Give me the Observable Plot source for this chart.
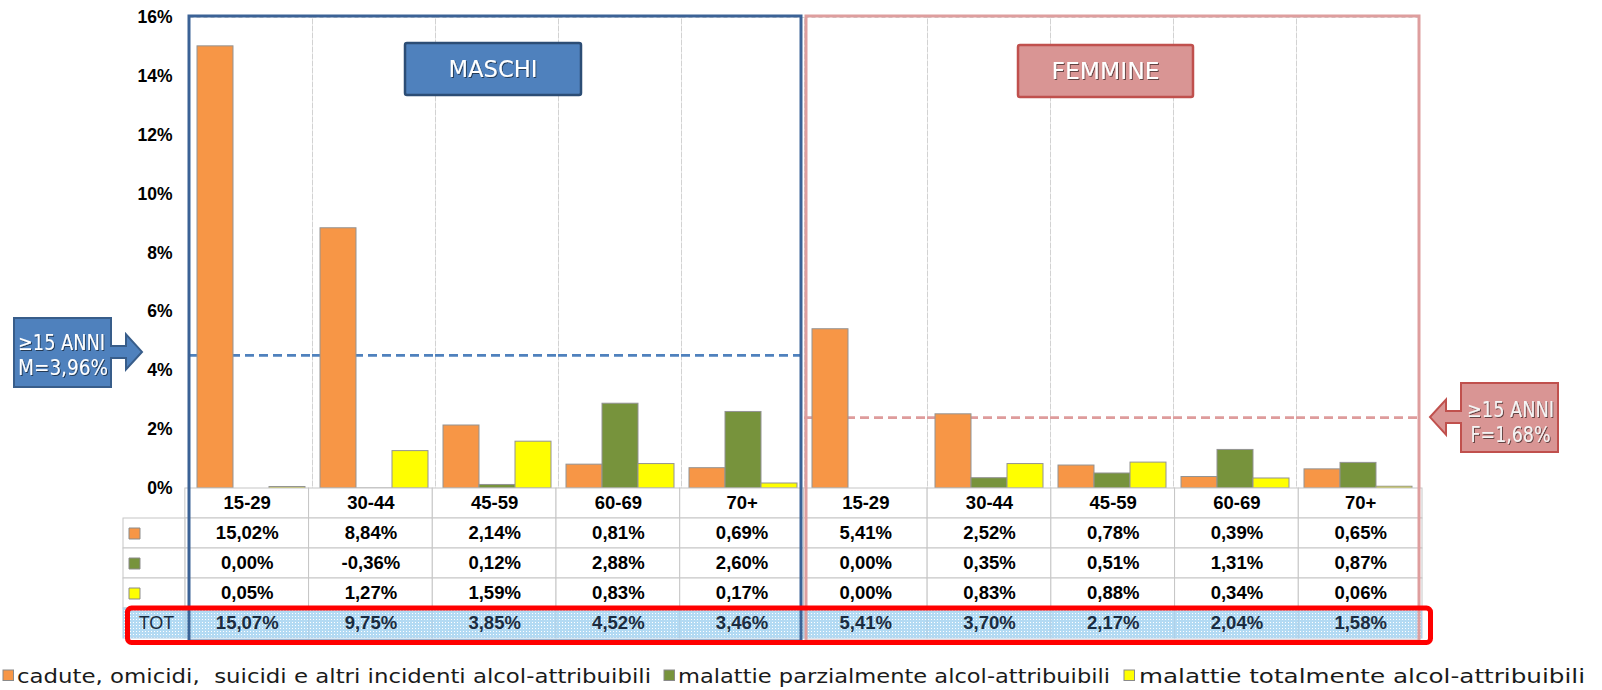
<!DOCTYPE html>
<html><head><meta charset="utf-8">
<script src="https://cdn.jsdelivr.net/npm/d3@7"></script>
<script src="https://cdn.jsdelivr.net/npm/@observablehq/plot@0.6"></script>
<style>
body{margin:0;background:#fff;}
#wrap{position:relative;width:1602px;height:690px;overflow:hidden;background:#fff;}
#wrap > svg{position:absolute;left:0;top:0;}
</style></head><body><div id="wrap"></div>
<script>
// ---------- data ----------
const ageGroups = ["15-29","30-44","45-59","60-69","70+"];
const sexes = ["M","F"];
const seriesKeys = ["incidenti","parziali","totali"];
const seriesLabels = ["cadute, omicidi,  suicidi e altri incidenti alcol-attribuibili","malattie parzialmente alcol-attribuibili","malattie totalmente alcol-attribuibili"];
const seriesColors = ["#F79646","#77933C","#FFFF00"];
const maleIncidenti = [15.02, 8.84, 2.14, 0.81, 0.69];
const maleParziali  = [0.00, -0.36, 0.12, 2.88, 2.60];
const maleTotali    = [0.05, 1.27, 1.59, 0.83, 0.17];
const femaleIncidenti = [5.41, 2.52, 0.78, 0.39, 0.65];
const femaleParziali  = [0.00, 0.35, 0.51, 1.31, 0.87];
const femaleTotali    = [0.00, 0.83, 0.88, 0.34, 0.06];
const maleTot   = [15.07, 9.75, 3.85, 4.52, 3.46];
const femaleTot = [5.41, 3.70, 2.17, 2.04, 1.58];
const yTicks = [0, 2, 4, 6, 8, 10, 12, 14, 16];
const refLevels = {M: 4.52, F: 2.41};           // level at which dashed lines are drawn
const refLabels = {M: ["≥15 ANNI", "M=3,96%"], F: ["≥15 ANNI", "F=1,68%"]};
const sexLabels = {M: "MASCHI", F: "FEMMINE"};
const totLabel = "TOT";

// ---------- derived tables ----------
const valuesBySex = {
  M: [maleIncidenti, maleParziali, maleTotali],
  F: [femaleIncidenti, femaleParziali, femaleTotali]
};
const totBySex = {M: maleTot, F: femaleTot};
const groupKeys = [];
sexes.forEach(s => ageGroups.forEach(a => groupKeys.push(s + " " + a)));
const bars = [];
sexes.forEach(s => ageGroups.forEach((a, i) => seriesKeys.forEach((k, j) => {
  bars.push({group: s + " " + a, series: k, value: valuesBySex[s][j][i]});
})));
const refData = groupKeys.map(g => ({group: g, sex: g.split(" ")[0], v: refLevels[g.split(" ")[0]]}));
const fmt = v => v.toFixed(2).replace(".", ",") + "%";

// ---------- chart ----------
const W = 1602, H = 690;
const FONT = "'Liberation Sans', Arial, sans-serif";
const NARROW = "'Liberation Sans Narrow', 'DejaVu Sans Condensed', 'Open Sans', sans-serif";
const chart = Plot.plot({
  width: W, height: H,
  marginLeft: 185, marginRight: 180, marginTop: 17, marginBottom: 202,
  style: {fontFamily: FONT, fontSize: "17.5px", fontWeight: "bold", color: "#000", background: "transparent", overflow: "visible"},
  fx: {domain: groupKeys, padding: 0, axis: null},
  x: {domain: seriesKeys, paddingInner: 0, paddingOuter: 0.176, axis: null},
  y: {domain: [0, 16], ticks: yTicks, tickFormat: d => d + "%", tickSize: 0, tickPadding: 17, label: null},
  color: {domain: seriesKeys, range: seriesColors},
  marks: [
    Plot.frame({stroke: "#d2d2d2", strokeDasharray: "4,3"}),
    Plot.ruleY(refData.filter(d => d.sex === "M"), {fx: "group", y: "v", stroke: "#4F81BD", strokeWidth: 2.8, strokeDasharray: "9,5"}),
    Plot.ruleY(refData.filter(d => d.sex === "F"), {fx: "group", y: "v", stroke: "#DE9C9C", strokeWidth: 2.8, strokeDasharray: "9,5"}),
    Plot.barY(bars, {fx: "group", x: "series", y: "value", fill: "series", stroke: "#939393", strokeWidth: 1, clip: true})
  ]
});

// ---------- table ----------
const rows = ["hdr", ...seriesKeys, "tot"];
const cellsPlain = [], cellsTot = [], texts = [];
groupKeys.forEach((g, i) => {
  const [s, a] = g.split(" ");
  const ai = ageGroups.indexOf(a);
  ["hdr", ...seriesKeys].forEach(r => cellsPlain.push({x1: i, x2: i + 1, row: r}));
  cellsTot.push({x1: i, x2: i + 1, row: "tot"});
  texts.push({xc: i + 0.5, row: "hdr", text: a});
  seriesKeys.forEach((k, j) => texts.push({xc: i + 0.5, row: k, text: fmt(valuesBySex[s][j][ai])}));
  texts.push({xc: i + 0.5, row: "tot", text: fmt(totBySex[s][ai]), tot: true});
});
seriesKeys.forEach(k => cellsPlain.push({x1: -0.5, x2: 0, row: k}));
cellsTot.push({x1: -0.5, x2: 0, row: "tot"});
const keyRows = seriesKeys.map((k, j) => ({row: k, color: seriesColors[j]}));

const tableCfg = {
  width: W, height: H,
  marginLeft: 123, marginRight: 180, marginTop: 488, marginBottom: 52,
  style: {fontFamily: FONT, background: "transparent", overflow: "visible"},
  x: {domain: [-0.5, 10], axis: null},
  y: {domain: rows, padding: 0, axis: null}
};
const table = Plot.plot({
  ...tableCfg,
  marks: [
    Plot.barX(cellsPlain, {x1: "x1", x2: "x2", y: "row", fill: "white", stroke: "#c6c6c6", strokeWidth: 1}),
    Plot.barX(cellsTot, {x1: "x1", x2: "x2", y: "row", fill: "url(#totdots)", stroke: "#b0cfe6", strokeWidth: 1}),
    Plot.text(texts.filter(d => !d.tot), {x: "xc", y: "row", text: "text", fontSize: 18.5, fontWeight: "bold", fill: "#000"}),
    Plot.text(texts.filter(d => d.tot), {x: "xc", y: "row", text: "text", fontSize: 18.5, fontWeight: "bold", fill: "#1b2c40"}),
    Plot.dot(keyRows, {y: "row", frameAnchor: "left", dx: 11, symbol: "square", r: 6.2, fill: "color", stroke: "#8a8a8a", strokeWidth: 1}),
    Plot.text([totLabel], {y: () => "tot", frameAnchor: "left", dx: 33, textAnchor: "middle", text: d => d, fontSize: 18, fill: "#1b2c40"})
  ]
});
d3.select(table).insert("defs", ":first-child").html(
  `<pattern id="totdots" width="3" height="3" patternUnits="userSpaceOnUse">
     <rect width="3" height="3" fill="#b3daf3"/><rect x="1" y="1" width="1" height="1" fill="#ffffff"/>
   </pattern>`);
// red highlight of the TOT row, drawn on top of everything
const highlight = Plot.plot({
  ...tableCfg,
  marks: [
    Plot.barX([{row: "tot"}], {x1: () => -0.5, x2: () => 10, y: "row", fill: "none", stroke: "#FF0000", strokeWidth: 5, rx: 4,
      insetLeft: 4.5, insetRight: -8.5, insetTop: 0, insetBottom: -4.5})
  ]
});

const wrap = document.getElementById("wrap");
wrap.appendChild(chart);
wrap.appendChild(table);

// ---------- annotations (positioned from the chart's scales) ----------
const fx = chart.scale("fx"), y = chart.scale("y");
const bw = fx.bandwidth;
const fxs = k => fx.apply(k);
const yTop = y.apply(16), yBase = y.apply(0);
const tableBottom = 641;

const ov = d3.create("svg").attr("width", W).attr("height", H)
  .style("font-family", NARROW);
ov.append("defs").html(`<filter id="sh" x="-10%" y="-10%" width="120%" height="130%">
  <feDropShadow dx="1" dy="1" stdDeviation="0.6" flood-color="#000" flood-opacity="0.55"/></filter>`);

// region boxes
const mL = fxs("M " + ageGroups[0]), mR = fxs("M " + ageGroups[4]) + bw - 3;
const fL = fxs("F " + ageGroups[0]) + 2, fR = fxs("F " + ageGroups[4]) + bw;
ov.append("rect").attr("x", mL).attr("y", yTop - 1).attr("width", mR - mL).attr("height", tableBottom - yTop + 1)
  .attr("fill", "none").attr("stroke", "#3B6296").attr("stroke-width", 3);
ov.append("rect").attr("x", fL).attr("y", yTop - 1).attr("width", fR - fL).attr("height", tableBottom - yTop + 1)
  .attr("fill", "none").attr("stroke", "#DE9E9E").attr("stroke-width", 3);

// sex label boxes
function labelBox(cx, top, w, h, fill, stroke, text, tw) {
  ov.append("rect").attr("x", cx - w / 2).attr("y", top).attr("width", w).attr("height", h).attr("rx", 2)
    .attr("fill", fill).attr("stroke", stroke).attr("stroke-width", 2.5);
  ov.append("text").attr("x", cx).attr("y", top + h / 2 + 8).attr("text-anchor", "middle")
    .attr("font-size", 23).attr("fill", "#fff").attr("filter", "url(#sh)")
    .attr("textLength", tw).attr("lengthAdjust", "spacingAndGlyphs").text(text);
}
labelBox((mL + mR) / 2 - 2, yTop + 26, 176, 52, "#4F81BD", "#2C4D75", sexLabels.M, 89);
labelBox((fL + fR) / 2 - 7, yTop + 28, 175, 52, "#D99594", "#C0504D", sexLabels.F, 108);

// callout arrows
function callout(dir, tx, ty, fill, stroke, lines, textFill) {
  const s = dir; // +1 pointing right (box on the left), -1 pointing left
  const boxNear = tx - s * 31, boxFar = tx - s * 128, neckEnd = tx - s * 16;
  const top = ty - 34, bot = ty + 35, nh = 6, hh = 17.5;
  const p = d3.path();
  p.moveTo(boxFar, top); p.lineTo(boxNear, top); p.lineTo(boxNear, ty - nh); p.lineTo(neckEnd, ty - nh);
  p.lineTo(neckEnd, ty - hh); p.lineTo(tx, ty); p.lineTo(neckEnd, ty + hh); p.lineTo(neckEnd, ty + nh);
  p.lineTo(boxNear, ty + nh); p.lineTo(boxNear, bot); p.lineTo(boxFar, bot); p.closePath();
  ov.append("path").attr("d", p.toString()).attr("fill", fill).attr("stroke", stroke).attr("stroke-width", 2);
  const cx = (boxNear + boxFar) / 2;
  const widths = s > 0 ? [87, 90] : [87, 80];
  lines.forEach((t, i) => {
    const txt = ov.append("text").attr("y", ty - 2 + i * 25 + (s > 0 ? 0 : 2)).attr("font-size", 21)
      .attr("fill", textFill).attr("filter", "url(#sh)")
      .attr("textLength", widths[i]).attr("lengthAdjust", "spacingAndGlyphs").text(t);
    if (s > 0) txt.attr("x", Math.min(boxNear, boxFar) + 4);
    else txt.attr("x", cx + 1).attr("text-anchor", "middle");
  });
}
callout(1, mL - 47, y.apply(refLevels.M) - 3, "#4F81BD", "#385D8A", refLabels.M, "#fff");
callout(-1, fR + 11, y.apply(refLevels.F), "#D99594", "#C0504D", refLabels.F, "#f4f4f4");

// legend
const legendPos = [{sq: 3, tx: 17, tw: 634}, {sq: 664, tx: 678, tw: 432}, {sq: 1124, tx: 1139, tw: 446}];
seriesKeys.forEach((k, j) => {
  const lp = legendPos[j];
  ov.append("rect").attr("x", lp.sq).attr("y", 670).attr("width", 10.5).attr("height", 10.5)
    .attr("fill", seriesColors[j]).attr("stroke", "#8a8a8a").attr("stroke-width", 1);
  ov.append("text").attr("x", lp.tx).attr("y", 683).attr("font-size", 20).attr("fill", "#1a1a1a")
    .attr("textLength", lp.tw).attr("lengthAdjust", "spacingAndGlyphs")
    .style("white-space", "pre").attr("xml:space", "preserve").text(seriesLabels[j]);
});

wrap.appendChild(ov.node());
wrap.appendChild(highlight);
</script>
</body></html>
